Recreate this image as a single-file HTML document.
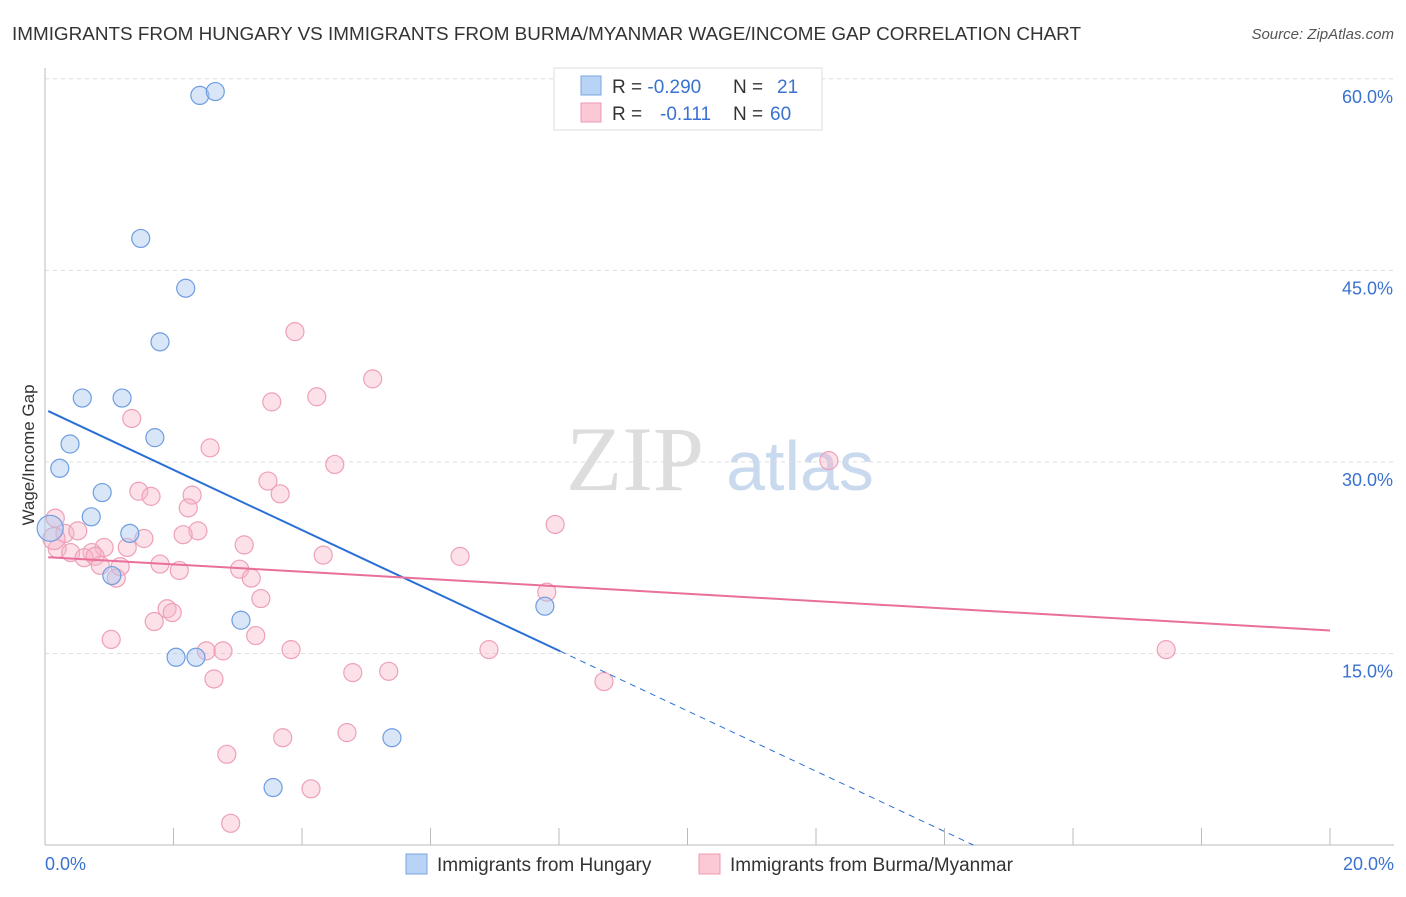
<!DOCTYPE html>
<html><head><meta charset="utf-8"><style>
body{margin:0;background:#fff;font-family:"Liberation Sans",sans-serif}
</style></head><body>
<svg id="c" width="1406" height="892" xmlns="http://www.w3.org/2000/svg">
<text x="12" y="40" font-size="18" fill="#333" textLength="1069" lengthAdjust="spacingAndGlyphs">IMMIGRANTS FROM HUNGARY VS IMMIGRANTS FROM BURMA/MYANMAR WAGE/INCOME GAP CORRELATION CHART</text>
<text x="1394" y="39" font-size="15" fill="#555" font-style="italic" text-anchor="end">Source: ZipAtlas.com</text>
<text x="34" y="455" font-size="17" fill="#333" text-anchor="middle" transform="rotate(-90 34 455)">Wage/Income Gap</text>
<g><text x="635" y="490" font-size="92" fill="#ddd" font-family="Liberation Serif,serif" text-anchor="middle">ZIP</text><text x="800" y="490" font-size="70" fill="#c9d9ee" text-anchor="middle">atlas</text></g>
<g id="grid"></g><g id="pts"></g><g id="lines"></g>
<g>
<rect x="554" y="68" width="268" height="62" fill="#fff" stroke="#ddd"/>
<rect x="581" y="76" width="20" height="19" fill="#b8d3f5" stroke="#7aa7e0"/>
<rect x="581" y="103" width="20" height="19" fill="#fbc8d6" stroke="#ee9ab3"/>
<text x="612" y="93" font-size="19" fill="#333">R = <tspan fill="#3a72d0">-0.290</tspan><tspan x="733">N = </tspan><tspan x="777" fill="#3a72d0">21</tspan></text>
<text x="612" y="120" font-size="19" fill="#333">R = <tspan x="660" fill="#3a72d0">-0.111</tspan><tspan x="733">N = </tspan><tspan x="770" fill="#3a72d0">60</tspan></text>
</g>
<g>
<rect x="406" y="854" width="21" height="20" fill="#b8d3f5" stroke="#7aa7e0"/>
<text x="437" y="871" font-size="19" fill="#333">Immigrants from Hungary</text>
<rect x="699" y="854" width="21" height="20" fill="#fbc8d6" stroke="#ee9ab3"/>
<text x="730" y="871" font-size="19" fill="#333">Immigrants from Burma/Myanmar</text>
</g>
</svg>
<script>
const yTicks=[15,30,45,60];
const yTickLabels=["15.0%","30.0%","45.0%","60.0%"];
const xTickLabels=["0.0%","20.0%"];
const hungaryX=[2.41,2.65,1.49,2.19,1.79,0.58,1.20,0.39,1.71,0.23,0.89,0.72,1.32,0.08,1.04,3.05,7.78,2.04,2.35,5.40,3.55];
const hungaryY=[58.7,59.0,47.5,43.6,39.4,35.0,35.0,31.4,31.9,29.5,27.6,25.7,24.4,24.8,21.1,17.6,18.7,14.7,14.7,8.4,4.5];
const burmaX=[3.89,5.10,3.53,4.23,1.35,2.57,4.51,12.20,3.47,1.46,1.65,3.66,2.29,2.23,7.94,0.16,0.31,0.51,2.38,2.15,1.54,3.10,1.28,0.92,0.19,0.40,0.73,0.61,0.78,4.33,6.46,1.79,1.17,0.86,2.09,3.03,3.21,1.11,7.81,3.36,1.90,1.98,1.70,1.03,3.28,2.51,2.77,3.83,6.91,17.45,2.63,4.79,5.35,8.70,3.70,4.70,2.83,4.14,2.89,0.14];
const burmaY=[40.2,36.5,34.7,35.1,33.4,31.1,29.8,30.1,28.5,27.7,27.3,27.5,27.4,26.4,25.1,25.6,24.4,24.6,24.6,24.3,24.0,23.5,23.3,23.3,23.2,22.9,22.9,22.5,22.6,22.7,22.6,22.0,21.8,21.9,21.5,21.6,20.9,20.9,19.8,19.3,18.5,18.2,17.5,16.1,16.4,15.2,15.2,15.3,15.3,15.3,13.0,13.5,13.6,12.8,8.4,8.8,7.1,4.4,1.7,24.0];
const hungaryTrend=[34.1,-2.36];
const burmaTrend=[22.55,-0.2875];
const NS="http://www.w3.org/2000/svg";
const X=v=>45+v/20*1285, Y=v=>845-v*12.77;
function mk(t,a,p){const e=document.createElementNS(NS,t);for(const k in a)e.setAttribute(k,a[k]);p.appendChild(e);return e;}
const g=document.getElementById('grid');
let ax=mk('line',{x1:45,y1:68,x2:45,y2:845,stroke:'#bbb'},g);


let bx=mk('line',{x1:45,y1:845,x2:1394,y2:845,stroke:'#bbb'},g);


yTicks.forEach((t,i)=>{
 const l=mk('line',{x1:45,x2:1394,y1:Y(t),y2:Y(t),stroke:'#ddd','stroke-dasharray':'4,4'},g);
 
 
 const tx=mk('text',{x:1393,y:Y(t)+24,'font-size':18,fill:'#3a72d0','text-anchor':'end'},g);tx.textContent=yTickLabels[i];
 
 
});
for(let i=0;i<=10;i++){const l=mk('line',{x1:X(i*2),x2:X(i*2),y1:828,y2:845,stroke:'#bbb'},g);
 
 }
[[0,45,'start'],[20,1394,'end']].forEach((d,i)=>{const t=mk('text',{x:d[1],y:870,'font-size':18,fill:'#3a72d0','text-anchor':d[2]},g);t.textContent=xTickLabels[i];
 
 });
const p=document.getElementById('pts');
burmaX.forEach((x,i)=>{const c=mk('circle',{cx:X(x),cy:Y(burmaY[i]),r:i==59?11:9,fill:'rgba(248,180,200,0.4)',stroke:'#eea0b8','stroke-width':1.2},p);
 
 });
hungaryX.forEach((x,i)=>{const c=mk('circle',{cx:X(x),cy:Y(hungaryY[i]),r:i==13?13:9,fill:'rgba(170,200,240,0.45)',stroke:'#6e9de0','stroke-width':1.2},p);
 
 });
const L=document.getElementById('lines');
const hy=x=>hungaryTrend[0]+hungaryTrend[1]*x, by=x=>burmaTrend[0]+burmaTrend[1]*x;
const x0=-hungaryTrend[0]/hungaryTrend[1];
let l1=mk('line',{x1:X(0.05),y1:Y(hy(0.05)),x2:X(8.02),y2:Y(hy(8.02)),stroke:'#2a6fd6','stroke-width':2},L);


let l2=mk('line',{x1:X(8.02),y1:Y(hy(8.02)),x2:X(x0),y2:Y(0),stroke:'#2a6fd6','stroke-width':1,'stroke-dasharray':'6,5'},L);


let l3=mk('line',{x1:X(0.05),y1:Y(by(0.05)),x2:X(20),y2:Y(by(20)),stroke:'#e8709a','stroke-width':2},L);


</script>
</body></html>
